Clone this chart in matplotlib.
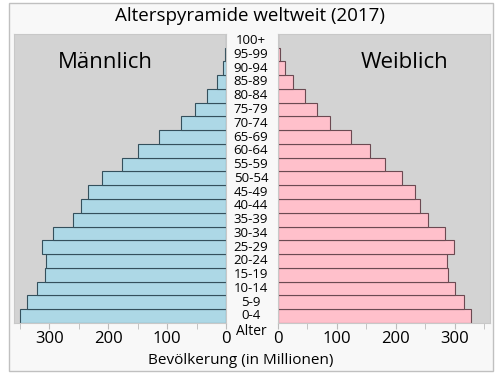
import matplotlib.pyplot as plt
import matplotlib.patches as mpatches
from matplotlib.transforms import blended_transform_factory

plt.rcParams.update({
    "font.family": ["Open Sans", "DejaVu Sans"],
    "font.size": 11,
})

AGE_GROUPS = ["0-4", "5-9", "10-14", "15-19", "20-24", "25-29", "30-34",
              "35-39", "40-44", "45-49", "50-54", "55-59", "60-64", "65-69",
              "70-74", "75-79", "80-84", "85-89", "90-94", "95-99", "100+"]
# population in millions, 2017
MALE = [349, 338, 321, 308, 305, 313, 294, 260, 247, 235, 210, 176, 149,
        113, 76, 52, 32, 16, 5.6, 1.0, 0.1]
FEMALE = [328, 316, 301, 289, 287, 299, 284, 255, 241, 233, 211, 181, 156,
          124, 89, 66, 46, 26, 12, 3, 0.4]
XTICKS = [0, 100, 200, 300]
MINOR_XTICKS = [50, 150, 250, 350]

MALE_COL = "#add8e6"
FEMALE_COL = "#ffc0cb"
BG = "#d3d3d3"

fig = plt.figure(figsize=(5, 3.75), dpi=100)
fig.patch.set_facecolor("white")
frame = mpatches.Rectangle((0.018, 0.011), 0.968, 0.98,
                           transform=fig.transFigure, facecolor="#f8f8f8",
                           edgecolor="#c0c0c0", linewidth=1, zorder=-10)
fig.patches.append(frame)

ax_m = fig.add_axes([0.028, 0.139, 0.424, 0.771])
ax_f = fig.add_axes([0.556, 0.139, 0.424, 0.771])

ys = list(range(len(AGE_GROUPS)))
ax_m.barh(ys, MALE, height=1.0, color=MALE_COL, edgecolor="#34505c", linewidth=0.8)
ax_f.barh(ys, FEMALE, height=1.0, color=FEMALE_COL, edgecolor="#6b4a52", linewidth=0.8)

for ax in (ax_m, ax_f):
    ax.set_facecolor(BG)
    ax.set_ylim(-0.5, len(AGE_GROUPS) - 0.5)
    ax.set_yticks([])
    ax.set_xticks(XTICKS)
    ax.set_xticks(MINOR_XTICKS, minor=True)
    ax.tick_params(axis="x", which="both", direction="out", length=4,
                   color="#bbbbbb", labelsize=12, pad=2)
    for s in ax.spines.values():
        s.set_color("#c8c8c8")
        s.set_linewidth(0.8)

ax_m.set_xlim(360, 0)
ax_f.set_xlim(0, 360)

ax_m.text(205, 18.4, "Männlich", ha="center", va="center", fontsize=16)
ax_f.text(215, 18.4, "Weiblich", ha="center", va="center", fontsize=16)

tr = blended_transform_factory(fig.transFigure, ax_m.transData)
for i, lab in enumerate(AGE_GROUPS):
    fig.text(0.502, i, lab, transform=tr, ha="center", va="center", fontsize=9.5)
fig.text(0.502, -1.1, "Alter", transform=tr, ha="center", va="center", fontsize=10)

fig.text(0.5, 0.958, "Alterspyramide weltweit (2017)", ha="center", va="center", fontsize=13.5)
fig.text(0.481, 0.038, "Bevölkerung (in Millionen)", ha="center", va="center", fontsize=11)

fig.savefig("out.png", dpi=100, facecolor=fig.get_facecolor())
